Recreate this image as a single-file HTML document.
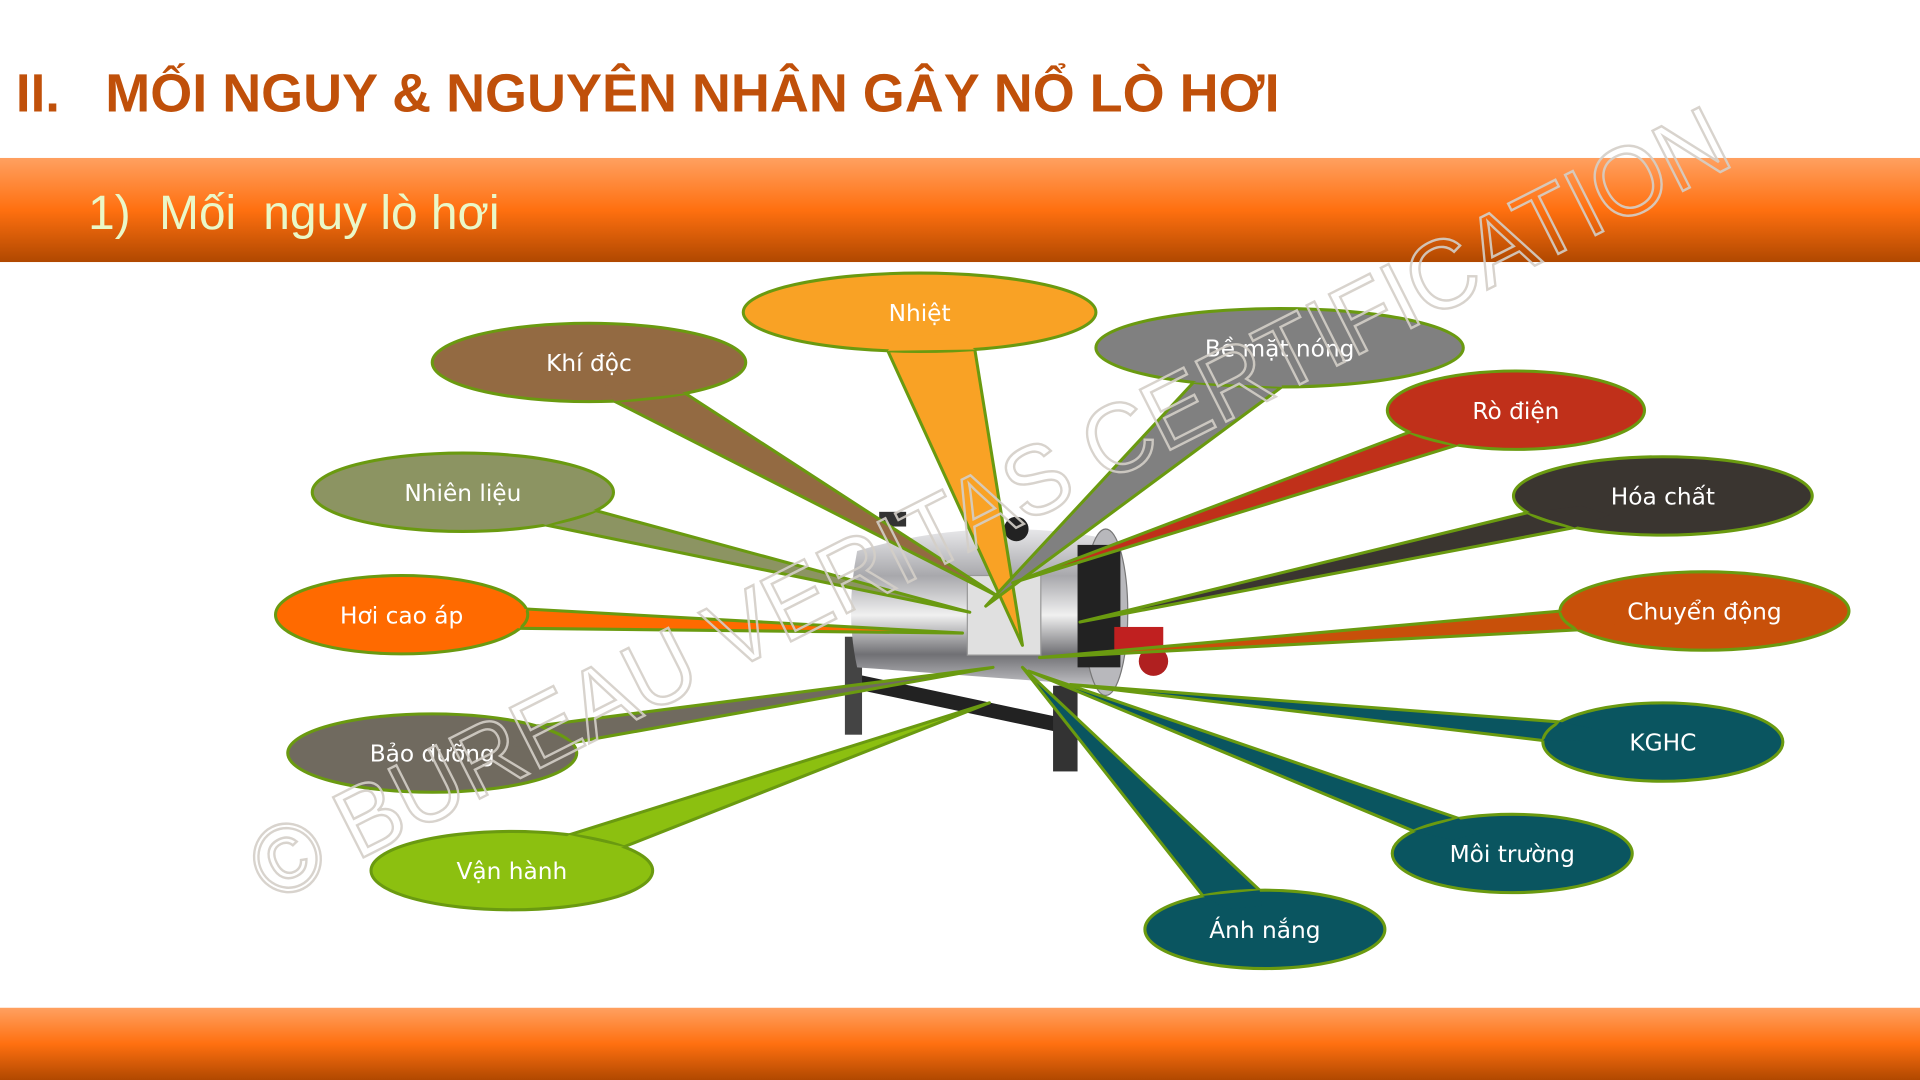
<!DOCTYPE html>
<html><head><meta charset="utf-8"><style>
html,body{margin:0;padding:0;background:#fff;}
svg{display:block;}
</style></head><body>
<svg id="s" width="1920" height="1080" viewBox="0 0 1568 882" xmlns="http://www.w3.org/2000/svg" font-family="'Liberation Sans', sans-serif">
<defs>
<linearGradient id="band" x1="0" y1="0" x2="0" y2="1">
<stop offset="0" stop-color="#ffa060"/><stop offset="0.5" stop-color="#ff7010"/><stop offset="1" stop-color="#b04800"/>
</linearGradient>
<linearGradient id="steel" x1="0" y1="0" x2="0" y2="1">
<stop offset="0" stop-color="#e8e8ea"/><stop offset="0.3" stop-color="#a8a8ac"/><stop offset="0.55" stop-color="#f0f0f0"/><stop offset="0.8" stop-color="#707074"/><stop offset="1" stop-color="#c0c0c4"/>
</linearGradient>
</defs>
<rect width="1568" height="882" fill="#fff"/>
<text x="13" y="91" font-size="44" font-weight="bold" fill="#c0500a" textLength="36" lengthAdjust="spacingAndGlyphs">II.</text>
<text x="86" y="91" font-size="44" font-weight="bold" fill="#c0500a" textLength="959" lengthAdjust="spacingAndGlyphs">MỐI NGUY &amp; NGUYÊN NHÂN GÂY NỔ LÒ HƠI</text>
<rect x="0" y="129" width="1568" height="85" fill="url(#band)"/>
<text x="72" y="187" font-size="39" fill="#eaf8c8">1)</text>
<text x="130" y="187" font-size="39" fill="#eaf8c8">Mối</text>
<text x="215" y="187" font-size="39" fill="#eaf8c8" textLength="193" lengthAdjust="spacingAndGlyphs">nguy lò hơi</text>
<rect x="0" y="823" width="1568" height="59" fill="url(#band)"/>
<g id="boiler">
<rect x="700" y="570" width="180" height="12" fill="#222" transform="rotate(12 790 576)"/>
<rect x="690" y="520" width="14" height="80" fill="#444"/>
<rect x="860" y="560" width="20" height="70" fill="#333"/>
<path d="M700 450 Q690 500 700 545 L900 560 L905 440 Q800 420 700 450 Z" fill="url(#steel)"/>
<ellipse cx="903" cy="500" rx="18" ry="68" fill="#b8b8bc" stroke="#777"/>
<rect x="880" y="445" width="35" height="100" fill="#222"/>
<rect x="790" y="470" width="60" height="65" fill="#e0e0e0" stroke="#999"/>
<circle cx="830" cy="432" r="10" fill="#222"/>
<rect x="910" y="512" width="40" height="22" fill="#c02020"/>
<circle cx="942" cy="540" r="12" fill="#b02020"/>
<rect x="718" y="418" width="22" height="12" fill="#333"/>
</g>
<g id="callouts"></g>
<text transform="translate(222,738) rotate(-26.8)" font-size="80" fill="none" stroke="#d4cfc8" stroke-width="2" textLength="1340" lengthAdjust="spacingAndGlyphs" opacity="0.9">© BUREAU VERITAS CERTIFICATION</text>
</svg>
<script>
var C=[
["Nhiệt",751,255,144,32,"#f9a225",835,527],
["Khí độc",481,296,128,32,"#936a42",815,487],
["Bề mặt nóng",1045,284,150,32,"#808080",805,495],
["Rò điện",1238,335,105,32,"#c0301a",827,476],
["Hóa chất",1358,405,122,32,"#3a3530",882,508],
["Chuyển động",1392,499,118,32,"#c8500a",849,537],
["KGHC",1358,606,98,32,"#0a5560",874,559],
["Môi trường",1235,697,98,32,"#0a5560",840,548],
["Ánh nắng",1033,759,98,32,"#0a5560",835,545],
["Vận hành",418,711,115,32,"#8cc010",808,574],
["Bảo dưỡng",353,615,118,32,"#706a5f",811,545],
["Hơi cao áp",328,502,103,32,"#ff6a00",786,517],
["Nhiên liệu",378,402,123,32,"#8c9462",792,500]
];
var g=document.getElementById("callouts"),h="";
C.forEach(function(c){
 var cx=c[1],cy=c[2],rx=c[3],ry=c[4],tx=c[6],ty=c[7];
 var a=Math.atan2((ty-cy)/ry,(tx-cx)/rx);
 var d=0.25;
 var p1=[cx+rx*Math.cos(a-d),cy+ry*Math.sin(a-d)],p2=[cx+rx*Math.cos(a+d),cy+ry*Math.sin(a+d)];
 var m1=[cx+rx*0.6*Math.cos(a-d),cy+ry*0.6*Math.sin(a-d)],m2=[cx+rx*0.6*Math.cos(a+d),cy+ry*0.6*Math.sin(a+d)];
 h+='<path d="M'+p1+' L'+tx+','+ty+' L'+p2+' Z" fill="'+c[5]+'" stroke="#6a9a10" stroke-width="2.5" stroke-linejoin="round"/>';
 h+='<ellipse cx="'+cx+'" cy="'+cy+'" rx="'+rx+'" ry="'+ry+'" fill="'+c[5]+'" stroke="#6a9a10" stroke-width="2.5"/>';
 h+='<path d="M'+m1+' L'+p1+' L'+p2+' L'+m2+' Z" fill="'+c[5]+'"/>';
 h+='<text x="'+cx+'" y="'+(cy+7)+'" fill="#fff" text-anchor="middle" font-family="\'DejaVu Sans\', sans-serif" style="font-size:19px">'+c[0]+'</text>';
});
g.innerHTML=h;
</script>
</body></html>
